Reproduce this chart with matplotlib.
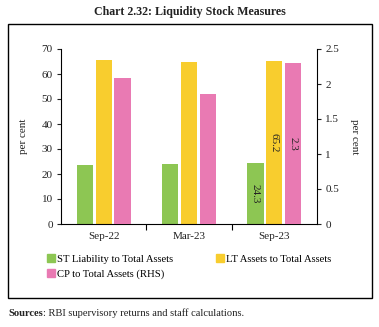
import matplotlib
matplotlib.use("Agg")
import matplotlib.pyplot as plt
from matplotlib.patches import Rectangle, Patch
import numpy as np

categories = ["Sep-22", "Mar-23", "Sep-23"]
st_liability = [23.6, 24.0, 24.3]
lt_assets = [65.8, 65.0, 65.2]
cp_assets_rhs = [2.08, 1.86, 2.3]

green = "#8DC653"
yellow = "#F8CD2E"
pink = "#E97AB3"
txt = "#222222"

plt.rcParams['font.family'] = ['Liberation Serif', 'DejaVu Serif']

W, H = 379, 327
fig = plt.figure(figsize=(W/100, H/100), dpi=100)

ax = fig.add_axes([61/W, 1-224/H, (317-61)/W, (224-49)/H])
ax2 = ax.twinx()

x = np.arange(len(categories))
bw = 0.19
off = 0.22
ax.bar(x - off, st_liability, bw, color=green, zorder=2)
ax.bar(x, lt_assets, bw, color=yellow, zorder=2)
ax2.bar(x + off, cp_assets_rhs, bw, color=pink, zorder=2)

ax.set_xlim(-0.5, 2.5)
ax.set_ylim(0, 70)
ax2.set_ylim(0, 2.5)
ax.set_yticks(np.arange(0, 71, 10))
ax2.set_yticks([0, 0.5, 1, 1.5, 2, 2.5])
ax2.set_yticklabels(["0", "0.5", "1", "1.5", "2", "2.5"])

ax.set_xticks([0.5, 1.5], minor=False)
ax.set_xticklabels(["", ""])
ax.set_xticks(x, minor=True)
ax.set_xticklabels(categories, minor=True)
ax.tick_params(axis='x', which='minor', length=0, labelsize=8, pad=6, colors=txt)
ax.tick_params(axis='x', which='major', length=4, width=0.8, direction='out')

for a in (ax, ax2):
    a.spines['top'].set_visible(False)
    a.spines['bottom'].set_linewidth(0.8)
    a.spines['left'].set_linewidth(0.8)
    a.spines['right'].set_linewidth(0.8)
    a.tick_params(axis='y', length=3, width=0.8, labelsize=8, colors=txt, pad=3)
ax.spines['right'].set_visible(False)
ax2.spines['left'].set_visible(False)
ax2.spines['bottom'].set_visible(False)

ax.set_ylabel("per cent", fontsize=8, labelpad=10, color=txt)
ax2.set_ylabel("per cent", fontsize=8, rotation=270, labelpad=14, color=txt)

ax.text(x[2] - off, st_liability[2] / 2, f"{st_liability[2]:.1f}", rotation=270,
        ha='center', va='center', fontsize=8, color=txt, zorder=3)
ax.text(x[2], lt_assets[2] / 2, f"{lt_assets[2]:.1f}", rotation=270,
        ha='center', va='center', fontsize=8, color=txt, zorder=3)
ax2.text(x[2] + off, cp_assets_rhs[2] / 2, f"{cp_assets_rhs[2]:.1f}", rotation=270,
         ha='center', va='center', fontsize=8, color=txt, zorder=3)

handles = [Patch(color=green), Patch(color=pink), Patch(color=yellow)]
labels = ["ST Liability to Total Assets", "CP to Total Assets (RHS)", "LT Assets to Total Assets"]
fig.legend(handles, labels, ncol=2, loc='upper left', bbox_to_anchor=(43/W, 1-250/H),
           frameon=False, fontsize=7.7, handlelength=0.75, handleheight=0.75,
           handletextpad=0.2, columnspacing=4.0, labelspacing=0.45, borderaxespad=0)

fig.patches.append(Rectangle((8/W, 1-298/H), (372-8)/W, (298-24)/H,
                             transform=fig.transFigure, fill=False, edgecolor='black',
                             linewidth=1.0))

fig.text(190/W, 1-12/H, "Chart 2.32: Liquidity Stock Measures", ha='center', va='center',
         fontsize=8.6, fontweight='bold', color=txt)

renderer = fig.canvas.get_renderer()
t1 = fig.text(8/W, 1-313/H, "Sources", ha='left', va='center', fontsize=7.6,
              fontweight='bold', color=txt)
bb = t1.get_window_extent(renderer)
fig.text(bb.x1/W, 1-313/H, ": RBI supervisory returns and staff calculations.",
         ha='left', va='center', fontsize=7.6, color=txt)

fig.savefig("out.png", dpi=100)
